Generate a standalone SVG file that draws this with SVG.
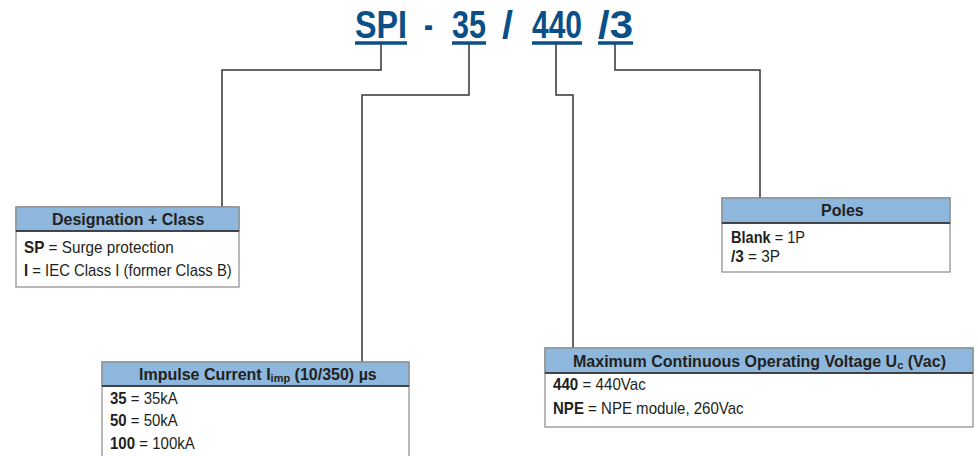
<svg xmlns="http://www.w3.org/2000/svg" width="978" height="456" viewBox="0 0 978 456">
<style>
text{font-family:"Liberation Sans",Arial,sans-serif;fill:#231f20}
.code{font-size:39px;font-weight:bold;fill:#0b4f87}
.ul{stroke:#0b4f87;stroke-width:3.5}
.hd{font-size:16px;font-weight:bold}
.sub{font-size:11px}
.bd{font-size:16px}
.b{font-weight:bold}
.box{fill:#fff;stroke:#8a8a8a;stroke-width:1.2}
.hdr{fill:#8db7dd;stroke:#8a8a8a;stroke-width:1.2}
.sep{stroke:#231f20;stroke-width:1.3}
.con{fill:none;stroke:#333;stroke-width:1.5}
</style>
<g id="title">
<text class="code" x="355" y="38" textLength="52" lengthAdjust="spacingAndGlyphs">SPI</text>
<text class="code" x="424" y="38" textLength="9" lengthAdjust="spacingAndGlyphs">-</text>
<text class="code" x="452" y="38" textLength="34" lengthAdjust="spacingAndGlyphs">35</text>
<text class="code" x="502" y="38" textLength="11" lengthAdjust="spacingAndGlyphs">/</text>
<text class="code" x="532" y="38" textLength="50" lengthAdjust="spacingAndGlyphs">440</text>
<text class="code" x="598" y="38" textLength="35" lengthAdjust="spacingAndGlyphs">/3</text>
<line class="ul" x1="355" y1="43" x2="407" y2="43"/>
<line class="ul" x1="452" y1="43" x2="486" y2="43"/>
<line class="ul" x1="532" y1="43" x2="582" y2="43"/>
<line class="ul" x1="598" y1="43" x2="633" y2="43"/>
</g>
<g id="connectors">
<polyline class="con" points="381,44 381,70 222,70 222,207"/>
<polyline class="con" points="469,44 469,95 362,95 362,362"/>
<polyline class="con" points="556,44 556,95 573,95 573,348"/>
<polyline class="con" points="615,44 615,70 760,70 760,198"/>
</g>
<g id="designation">
<rect class="box" x="16" y="207" width="223" height="80"/>
<rect class="hdr" x="16" y="207" width="223" height="24"/>
<line class="sep" x1="16" y1="231" x2="239" y2="231"/>
<text class="hd" x="52" y="225">Designation + Class</text>
<text class="bd" transform="translate(24,253) scale(0.955,1)"><tspan class="b">SP</tspan> = Surge protection</text>
<text class="bd" transform="translate(24,276) scale(0.93,1)"><tspan class="b">I</tspan> = IEC Class I (former Class B)</text>
</g>
<g id="impulse">
<rect class="box" x="102" y="362" width="307" height="100"/>
<rect class="hdr" x="102" y="362" width="307" height="24"/>
<line class="sep" x1="102" y1="386" x2="409" y2="386"/>
<text class="hd" x="139" y="380">Impulse Current I<tspan class="sub" dy="2">imp</tspan><tspan dy="-2"> (10/350) µs</tspan></text>
<text class="bd" transform="translate(110,404) scale(0.935,1)"><tspan class="b">35</tspan> = 35kA</text>
<text class="bd" transform="translate(110,426) scale(0.935,1)"><tspan class="b">50</tspan> = 50kA</text>
<text class="bd" transform="translate(110,449) scale(0.94,1)"><tspan class="b">100</tspan> = 100kA</text>
</g>
<g id="voltage">
<rect class="box" x="545" y="348" width="428" height="79"/>
<rect class="hdr" x="545" y="348" width="428" height="25"/>
<line class="sep" x1="545" y1="373" x2="973" y2="373"/>
<text class="hd" x="573" y="367">Maximum Continuous Operating Voltage U<tspan class="sub" dy="2">c</tspan><tspan dy="-2"> (Vac)</tspan></text>
<text class="bd" transform="translate(553,390) scale(0.948,1)"><tspan class="b">440</tspan> = 440Vac</text>
<text class="bd" transform="translate(553,414) scale(0.94,1)"><tspan class="b">NPE</tspan> = NPE module, 260Vac</text>
</g>
<g id="poles">
<rect class="box" x="722" y="198" width="228" height="74"/>
<rect class="hdr" x="722" y="198" width="228" height="25"/>
<line class="sep" x1="722" y1="223" x2="950" y2="223"/>
<text class="hd" x="821" y="216">Poles</text>
<text class="bd" transform="translate(731,243) scale(0.91,1)"><tspan class="b">Blank</tspan> = 1P</text>
<text class="bd" transform="translate(731,262) scale(0.96,1)"><tspan class="b">/3</tspan> = 3P</text>
</g>
</svg>
